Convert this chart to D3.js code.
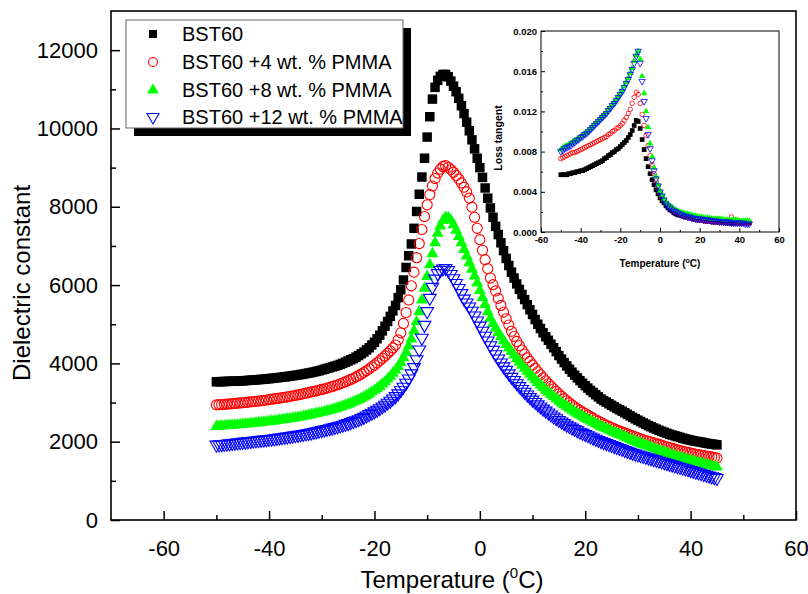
<!DOCTYPE html>
<html><head><meta charset="utf-8">
<script src="https://cdn.jsdelivr.net/npm/d3@7"></script>
<style>
body{margin:0;background:#fff}
svg text{font-family:Arial,"Liberation Sans",Helvetica,sans-serif}
</style>
</head><body>
<svg id="c" width="808" height="594"></svg>
<script>
// ---------- main panel data (Dielectric constant vs Temperature, 0.5 °C steps) ----------
const temps = [
 -50,-49.5,-49,-48.5,-48,-47.5,-47,-46.5,-46,-45.5,
 -45,-44.5,-44,-43.5,-43,-42.5,-42,-41.5,-41,-40.5,
 -40,-39.5,-39,-38.5,-38,-37.5,-37,-36.5,-36,-35.5,
 -35,-34.5,-34,-33.5,-33,-32.5,-32,-31.5,-31,-30.5,
 -30,-29.5,-29,-28.5,-28,-27.5,-27,-26.5,-26,-25.5,
 -25,-24.5,-24,-23.5,-23,-22.5,-22,-21.5,-21,-20.5,
 -20,-19.5,-19,-18.5,-18,-17.5,-17,-16.5,-16,-15.5,
 -15,-14.5,-14,-13.5,-13,-12.5,-12,-11.5,-11,-10.5,
 -10,-9.5,-9,-8.5,-8,-7.5,-7,-6.5,-6,-5.5,
 -5,-4.5,-4,-3.5,-3,-2.5,-2,-1.5,-1,-0.5,
 0,0.5,1,1.5,2,2.5,3,3.5,4,4.5,
 5,5.5,6,6.5,7,7.5,8,8.5,9,9.5,
 10,10.5,11,11.5,12,12.5,13,13.5,14,14.5,
 15,15.5,16,16.5,17,17.5,18,18.5,19,19.5,
 20,20.5,21,21.5,22,22.5,23,23.5,24,24.5,
 25,25.5,26,26.5,27,27.5,28,28.5,29,29.5,
 30,30.5,31,31.5,32,32.5,33,33.5,34,34.5,
 35,35.5,36,36.5,37,37.5,38,38.5,39,39.5,
 40,40.5,41,41.5,42,42.5,43,43.5,44,44.5,
 45];
const bst60 = [
 3530,3532,3535,3537,3540,3542,3545,3547,3550,3552,
 3555,3560,3565,3570,3575,3580,3585,3590,3595,3602,
 3610,3617,3625,3632,3640,3647,3655,3665,3675,3685,
 3695,3705,3715,3727,3740,3752,3765,3780,3795,3812,
 3830,3850,3870,3890,3910,3930,3950,3975,4000,4030,
 4060,4090,4120,4160,4200,4245,4290,4345,4400,4470,
 4540,4630,4720,4830,4950,5070,5200,5340,5480,5680,
 5880,6130,6450,6750,7050,7450,7880,8320,8760,9240,
 9780,10300,10750,11050,11230,11330,11380,11380,11320,11210,
 11080,10940,10770,10580,10380,10160,9940,9710,9480,9240,
 9000,8750,8480,8220,7970,7730,7500,7290,7080,6880,
 6680,6500,6330,6180,6030,5890,5760,5630,5500,5370,
 5250,5120,5000,4890,4780,4680,4590,4490,4400,4300,
 4200,4110,4020,3935,3850,3775,3700,3630,3560,3495,
 3430,3370,3310,3255,3200,3145,3090,3050,3010,2970,
 2930,2890,2850,2815,2780,2740,2700,2660,2620,2585,
 2550,2515,2480,2445,2410,2380,2350,2320,2290,2265,
 2240,2215,2190,2170,2150,2130,2110,2090,2070,2055,
 2040,2025,2010,2000,1990,1975,1960,1950,1940,1930,
 1920];
const pmma4 = [
 2940,2945,2950,2955,2960,2965,2970,2977,2985,2990,
 2995,3002,3010,3017,3025,3032,3040,3047,3055,3065,
 3075,3085,3095,3105,3115,3125,3135,3147,3160,3172,
 3185,3197,3210,3225,3240,3255,3270,3285,3300,3317,
 3335,3352,3370,3390,3410,3432,3455,3480,3505,3532,
 3560,3590,3620,3655,3690,3730,3770,3815,3860,3910,
 3960,4015,4070,4130,4190,4255,4320,4395,4470,4600,
 4780,5020,5300,5620,5980,6330,6700,7060,7420,7750,
 8050,8310,8530,8720,8860,8960,9030,9050,9010,8950,
 8880,8800,8710,8610,8500,8380,8220,7990,7730,7450,
 7160,6890,6650,6420,6180,6010,5850,5660,5480,5310,
 5140,4980,4820,4690,4560,4450,4340,4240,4140,4050,
 3960,3875,3790,3710,3630,3555,3480,3415,3350,3285,
 3220,3160,3100,3045,2990,2940,2890,2845,2800,2760,
 2720,2680,2640,2600,2560,2525,2490,2455,2420,2390,
 2360,2330,2300,2275,2250,2225,2200,2175,2150,2125,
 2100,2075,2050,2030,2010,1990,1970,1950,1930,1910,
 1890,1870,1850,1830,1810,1790,1770,1755,1740,1725,
 1710,1695,1680,1670,1660,1645,1630,1620,1610,1595,
 1580];
const pmma8 = [
 2390,2395,2400,2405,2410,2415,2420,2425,2430,2437,
 2445,2450,2455,2462,2470,2477,2485,2492,2500,2507,
 2515,2522,2530,2540,2550,2560,2570,2580,2590,2600,
 2610,2622,2635,2647,2660,2675,2690,2705,2720,2735,
 2750,2767,2785,2802,2820,2840,2860,2882,2905,2930,
 2955,2982,3010,3040,3070,3105,3140,3180,3220,3265,
 3310,3360,3410,3470,3530,3600,3670,3750,3830,3920,
 4020,4140,4280,4440,4620,4830,5060,5320,5620,5920,
 6220,6520,6800,7080,7320,7510,7650,7730,7720,7660,
 7540,7400,7240,7080,6910,6740,6570,6400,6230,6050,
 5860,5680,5500,5320,5150,5020,4900,4790,4680,4580,
 4480,4390,4300,4210,4120,4035,3950,3875,3800,3725,
 3650,3580,3510,3445,3380,3320,3260,3205,3150,3095,
 3040,2990,2940,2895,2850,2805,2760,2720,2680,2640,
 2600,2565,2530,2495,2460,2425,2390,2360,2330,2300,
 2270,2240,2210,2180,2150,2120,2090,2060,2030,2005,
 1980,1955,1930,1905,1880,1855,1830,1805,1780,1755,
 1730,1705,1680,1660,1640,1620,1600,1580,1560,1540,
 1520,1500,1480,1465,1450,1430,1410,1395,1380,1365,
 1350];
const pmma12 = [
 1920,1925,1930,1937,1945,1952,1960,1967,1975,1982,
 1990,1997,2005,2012,2020,2027,2035,2042,2050,2057,
 2065,2072,2080,2090,2100,2110,2120,2130,2140,2150,
 2160,2170,2180,2192,2205,2217,2230,2245,2260,2275,
 2290,2305,2320,2337,2355,2372,2390,2410,2430,2450,
 2470,2495,2520,2545,2570,2600,2630,2665,2700,2735,
 2770,2810,2850,2895,2940,2990,3040,3100,3160,3230,
 3310,3400,3500,3610,3740,3900,4100,4350,4650,4980,
 5330,5670,5950,6160,6300,6380,6420,6430,6380,6280,
 6170,6050,5920,5790,5650,5550,5450,5340,5220,5090,
 4960,4830,4700,4580,4460,4340,4230,4120,4020,3920,
 3830,3740,3650,3570,3490,3415,3340,3270,3200,3135,
 3070,3010,2950,2895,2840,2790,2740,2690,2640,2595,
 2550,2510,2470,2430,2390,2355,2320,2285,2250,2220,
 2190,2160,2130,2100,2070,2040,2010,1985,1960,1935,
 1910,1885,1860,1835,1810,1785,1760,1735,1710,1690,
 1670,1650,1630,1610,1590,1570,1550,1530,1510,1490,
 1470,1450,1430,1410,1390,1370,1350,1330,1310,1290,
 1270,1250,1230,1210,1190,1170,1150,1130,1110,1090,
 1070];

// ---------- inset data (Loss tangent vs Temperature, 1 °C steps) ----------
const insetTemps = [
 -50,-49,-48,-47,-46,-45,-44,-43,-42,-41,
 -40,-39,-38,-37,-36,-35,-34,-33,-32,-31,
 -30,-29,-28,-27,-26,-25,-24,-23,-22,-21,
 -20,-19,-18,-17,-16,-15,-14,-13,-12,-11,
 -10,-9,-8,-7,-6,-5,-4,-3,-2,-1,
 0,1,2,3,4,5,6,7,8,9,
 10,11,12,13,14,15,16,17,18,19,
 20,21,22,23,24,25,26,27,28,29,
 30,31,32,33,34,35,36,37,38,39,
 40,41,42,43,44,45];
const lossBst60 = [
 .0057,.0057,.0057,.0057,.0058,.0058,.0059,.0059,.0060,.0060,
 .0061,.0061,.0062,.0063,.0064,.0065,.0066,.0067,.0068,.0069,
 .0070,.0071,.0073,.0074,.0076,.0077,.0079,.0080,.0082,.0083,
 .0085,.0087,.0089,.0091,.0094,.0097,.0101,.0106,.0111,.0110,
 .0103,.0092,.0082,.0073,.0065,.0058,.0052,.0047,.0042,.0038,
 .0034,.0031,.0029,.0026,.0024,.0022,.0021,.0019,.0018,.0017,
 .0017,.0016,.0016,.0015,.0015,.0014,.0014,.0013,.0013,.0012,
 .0012,.0012,.0012,.0011,.0011,.0011,.0011,.0010,.0010,.0010,
 .0010,.0010,.0010,.0009,.0009,.0009,.0009,.0009,.0009,.0009,
 .0009,.0009,.0009,.0009,.0009,.0009];
const lossPmma4 = [
 .0073,.0074,.0075,.0076,.0077,.0078,.0079,.0079,.0080,.0081,
 .0082,.0083,.0084,.0085,.0086,.0087,.0088,.0089,.0090,.0091,
 .0092,.0093,.0094,.0095,.0097,.0098,.0100,.0101,.0103,.0104,
 .0106,.0108,.0111,.0114,.0118,.0122,.0128,.0134,.0139,.0137,
 .0128,.0117,.0106,.0096,.0086,.0076,.0067,.0058,.0051,.0045,
 .0039,.0035,.0032,.0029,.0026,.0024,.0023,.0021,.0020,.0019,
 .0018,.0017,.0016,.0015,.0015,.0014,.0014,.0013,.0013,.0012,
 .0012,.0012,.0011,.0011,.0011,.0011,.0010,.0010,.0010,.0010,
 .0010,.0010,.0010,.0010,.0010,.0010,.0015,.0010,.0010,.0010,
 .0009,.0009,.0009,.0009,.0009,.0009];
const lossPmma8 = [
 .0082,.0084,.0085,.0086,.0087,.0088,.0090,.0091,.0092,.0093,
 .0095,.0096,.0098,.0099,.0101,.0103,.0105,.0107,.0109,.0111,
 .0113,.0115,.0117,.0119,.0122,.0124,.0127,.0129,.0132,.0135,
 .0138,.0141,.0145,.0149,.0153,.0158,.0163,.0170,.0176,.0180,
 .0172,.0155,.0138,.0120,.0104,.0088,.0075,.0064,.0055,.0047,
 .0041,.0037,.0033,.0030,.0028,.0026,.0025,.0023,.0022,.0021,
 .0020,.0019,.0019,.0018,.0018,.0017,.0017,.0016,.0016,.0015,
 .0015,.0015,.0014,.0014,.0014,.0014,.0013,.0013,.0013,.0013,
 .0013,.0013,.0012,.0012,.0012,.0012,.0012,.0012,.0012,.0012,
 .0011,.0011,.0011,.0011,.0011,.0011];
const lossPmma12 = [
 .0080,.0081,.0083,.0084,.0085,.0086,.0088,.0089,.0091,.0092,
 .0094,.0095,.0097,.0098,.0100,.0102,.0104,.0106,.0108,.0110,
 .0112,.0114,.0116,.0118,.0121,.0123,.0126,.0128,.0131,.0134,
 .0137,.0140,.0144,.0148,.0152,.0157,.0162,.0168,.0175,.0180,
 .0168,.0150,.0130,.0113,.0097,.0083,.0071,.0061,.0053,.0046,
 .0040,.0036,.0032,.0028,.0026,.0024,.0022,.0021,.0020,.0019,
 .0018,.0017,.0016,.0016,.0015,.0015,.0014,.0014,.0013,.0013,
 .0013,.0013,.0012,.0012,.0012,.0012,.0011,.0011,.0011,.0011,
 .0010,.0010,.0010,.0010,.0010,.0010,.0009,.0009,.0009,.0009,
 .0009,.0009,.0009,.0008,.0008,.0008];

const seriesNames = ["BST60","BST60 +4 wt. % PMMA","BST60 +8 wt. % PMMA","BST60 +12 wt. % PMMA"];
const xMajor = [-60,-40,-20,0,20,40,60];
const xMinor = [-50,-30,-10,10,30,50];
const yMajor = [0,2000,4000,6000,8000,10000,12000];
const yMinor = [1000,3000,5000,7000,9000,11000];
const insetXMajor = [-60,-40,-20,0,20,40,60];
const insetXMinor = [-50,-30,-10,10,30,50];
const insetYMajor = [0,0.004,0.008,0.012,0.016,0.020];
const insetYMinor = [0.002,0.006,0.010,0.014,0.018];

// ---------- styles ----------
const styles = [
  {type:d3.symbolSquare, fill:"#000", stroke:"none", rot:0},
  {type:d3.symbolCircle, fill:"none", stroke:"#ff0000", rot:0},
  {type:d3.symbolTriangle, fill:"#00ff00", stroke:"none", rot:0},
  {type:d3.symbolTriangle, fill:"none", stroke:"#0000ff", rot:180}
];
const mainSizes = [90, 80, 62, 70];
const legendSizes = [64, 62, 60, 62];
const insetSizes = [22, 16, 18, 18];
const plainFmt = d => String(d);

const svg = d3.select("#c");
const x = d3.scaleLinear().domain([-70,60]).range([111,796]);
const y = d3.scaleLinear().domain([0,13000]).range([520,11]);

// ---------- data markers (main) ----------
const mainData = [bst60, pmma4, pmma8, pmma12];
mainData.forEach((vals, si) => {
  const st = styles[si];
  const sym = d3.symbol().type(st.type).size(mainSizes[si]);
  svg.append("g").selectAll("path").data(temps.map((t,i)=>[t, vals[i]])).join("path")
    .attr("d", sym)
    .attr("transform", d => `translate(${x(d[0])},${y(d[1])}) rotate(${st.rot})`)
    .attr("fill", st.fill).attr("stroke", st.stroke).attr("stroke-width", 1.1);
});

// ---------- axes (main) ----------
function styleAxis(g){
  g.select(".domain").remove();
  g.selectAll("line").attr("stroke","#000").attr("stroke-width",1.5);
}
svg.append("g").attr("transform","translate(0,520)")
  .call(d3.axisBottom(x).tickValues(xMajor).tickSize(-9).tickPadding(20).tickFormat(plainFmt))
  .call(styleAxis)
  .call(g=>g.selectAll("text").attr("font-size",22).attr("fill","#000"));
svg.append("g").attr("transform","translate(0,520)")
  .call(d3.axisBottom(x).tickValues(xMinor).tickSize(-5).tickFormat(""))
  .call(styleAxis);
svg.append("g").attr("transform","translate(111,0)")
  .call(d3.axisLeft(y).tickValues(yMajor).tickSize(-9).tickPadding(13).tickFormat(plainFmt))
  .call(styleAxis)
  .call(g=>g.selectAll("text").attr("font-size",22).attr("fill","#000"));
svg.append("g").attr("transform","translate(111,0)")
  .call(d3.axisLeft(y).tickValues(yMinor).tickSize(-5).tickFormat(""))
  .call(styleAxis);
svg.append("rect").attr("x",x(-70)).attr("y",y(13000))
  .attr("width",x(60)-x(-70)).attr("height",y(0)-y(13000))
  .attr("fill","none").attr("stroke","#000").attr("stroke-width",1.6);

// axis titles
const xt = svg.append("text").attr("x",452).attr("y",588).attr("text-anchor","middle")
  .attr("font-size",24).attr("fill","#000");
xt.append("tspan").text("Temperature (");
xt.append("tspan").attr("font-size",15).attr("dy",-10).text("0");
xt.append("tspan").attr("dy",10).text("C)");
svg.append("text").attr("transform","translate(30,283) rotate(-90)").attr("text-anchor","middle")
  .attr("font-size",24).attr("fill","#000").text("Dielectric constant");

// ---------- legend ----------
const lg = svg.append("g");
lg.append("rect").attr("x",134).attr("y",28).attr("width",277).attr("height",108).attr("fill","#000");
lg.append("rect").attr("x",126).attr("y",20).attr("width",277).attr("height",108)
  .attr("fill","#fff").attr("stroke","#666").attr("stroke-width",1);
const legY = [34, 62, 90, 117];
seriesNames.forEach((name, si) => {
  const st = styles[si];
  lg.append("path").attr("d", d3.symbol().type(st.type).size(legendSizes[si])())
    .attr("transform",`translate(153,${legY[si]}) rotate(${st.rot})`)
    .attr("fill", st.fill).attr("stroke", st.stroke).attr("stroke-width",1.1);
  lg.append("text").attr("x",182).attr("y",legY[si]).attr("dy","0.36em")
    .attr("font-size",20).attr("fill","#000").text(name);
});

// ---------- inset ----------
const ix = d3.scaleLinear().domain([-60,60]).range([541,779]);
const iy = d3.scaleLinear().domain([0,0.020]).range([232,31]);
const inset = svg.append("g");
const lossData = [lossBst60, lossPmma4, lossPmma8, lossPmma12];
lossData.forEach((vals, si) => {
  const st = styles[si];
  const sym = d3.symbol().type(st.type).size(insetSizes[si]);
  inset.append("g").selectAll("path").data(insetTemps.map((t,i)=>[t, vals[i]])).join("path")
    .attr("d", sym)
    .attr("transform", d => `translate(${ix(d[0])},${iy(d[1])}) rotate(${st.rot})`)
    .attr("fill", st.fill).attr("stroke", st.stroke).attr("stroke-width", 0.8);
});
function styleInsetAxis(g){
  g.select(".domain").remove();
  g.selectAll("line").attr("stroke","#000").attr("stroke-width",1);
  g.selectAll("text").attr("font-size",9.5).attr("font-weight","bold").attr("fill","#000");
}
inset.append("g").attr("transform","translate(0,232)")
  .call(d3.axisBottom(ix).tickValues(insetXMajor).tickSize(-4).tickPadding(4).tickFormat(plainFmt))
  .call(styleInsetAxis);
inset.append("g").attr("transform","translate(0,232)")
  .call(d3.axisBottom(ix).tickValues(insetXMinor).tickSize(-2).tickFormat(""))
  .call(styleInsetAxis);
inset.append("g").attr("transform","translate(541,0)")
  .call(d3.axisLeft(iy).tickValues(insetYMajor).tickSize(-4).tickPadding(4).tickFormat(d3.format(".3f")))
  .call(styleInsetAxis);
inset.append("g").attr("transform","translate(541,0)")
  .call(d3.axisLeft(iy).tickValues(insetYMinor).tickSize(-2).tickFormat(""))
  .call(styleInsetAxis);
inset.append("rect").attr("x",ix(-60)).attr("y",iy(0.020))
  .attr("width",ix(60)-ix(-60)).attr("height",iy(0)-iy(0.020))
  .attr("fill","none").attr("stroke","#000").attr("stroke-width",1);
const it = inset.append("text").attr("x",660).attr("y",267).attr("text-anchor","middle")
  .attr("font-size",10).attr("font-weight","bold").attr("fill","#000");
it.append("tspan").text("Temperature (");
it.append("tspan").attr("font-size",7).attr("dy",-4).text("o");
it.append("tspan").attr("dy",4).text("C)");
inset.append("text").attr("transform","translate(502,138) rotate(-90)").attr("text-anchor","middle")
  .attr("font-size",10.5).attr("font-weight","bold").attr("fill","#000").text("Loss tangent");
</script>
</body></html>
